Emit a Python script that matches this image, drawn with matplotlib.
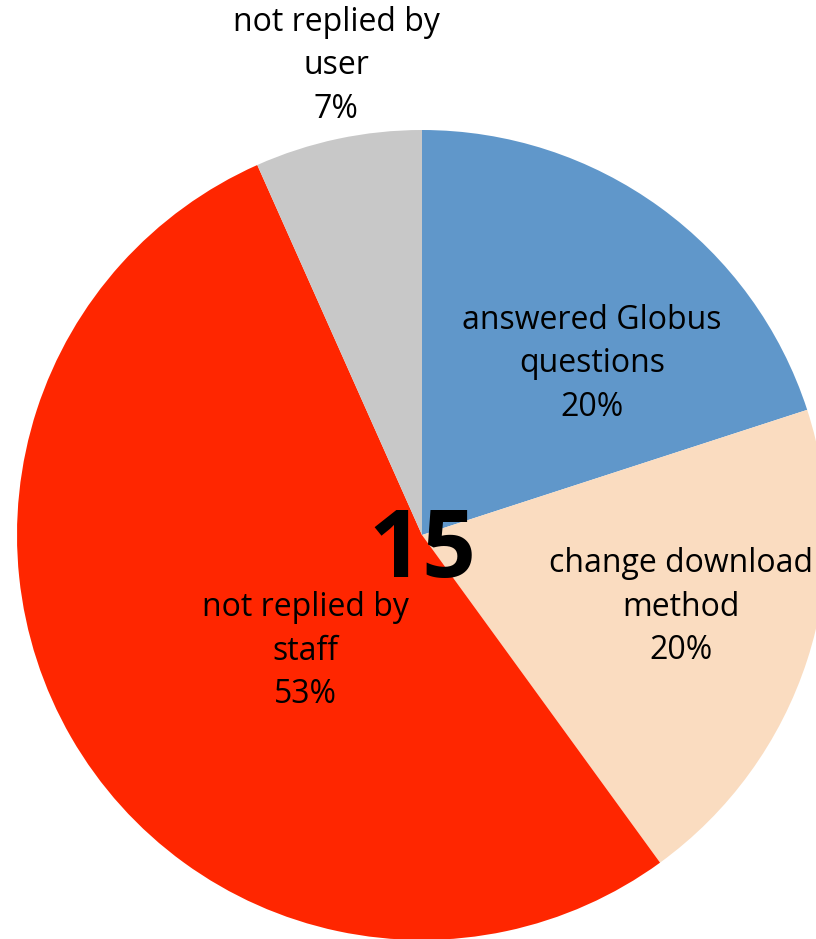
import matplotlib.pyplot as plt

categories = ["answered Globus\nquestions", "change download\nmethod",
              "not replied by\nstaff", "not replied by\nuser"]
counts = [3, 3, 8, 1]
colors = ["#6097CA", "#FADCC0", "#FF2600", "#C8C8C8"]

# label anchor points in pixel space (x, y from top)
label_pos = [(592, 364), (681, 607), (305, 651), (336, 66)]

total = sum(counts)

fig = plt.figure(figsize=(8.16, 9.39), dpi=100)
ax = fig.add_axes([0, 0, 1, 1])

cx, cy, r = 422, 939 - 535, 405
ax.pie(counts, colors=colors, startangle=90, counterclock=False,
       center=(cx, cy), radius=r, frame=True,
       wedgeprops=dict(linewidth=0))
ax.set_xlim(0, 816)
ax.set_ylim(0, 939)
ax.set_aspect("equal")
ax.axis("off")

for name, n, (x, y) in zip(categories, counts, label_pos):
    pct = round(100 * n / total)
    ax.text(x, 939 - y, f"{name}\n{pct}%", ha="center", va="center",
            fontsize=23, family="Open Sans", linespacing=1.42)

ax.text(cx, 939 - 553, str(total), ha="center", va="center",
        fontsize=68, fontweight="bold", family="Open Sans")

fig.savefig("out.png", dpi=100)
